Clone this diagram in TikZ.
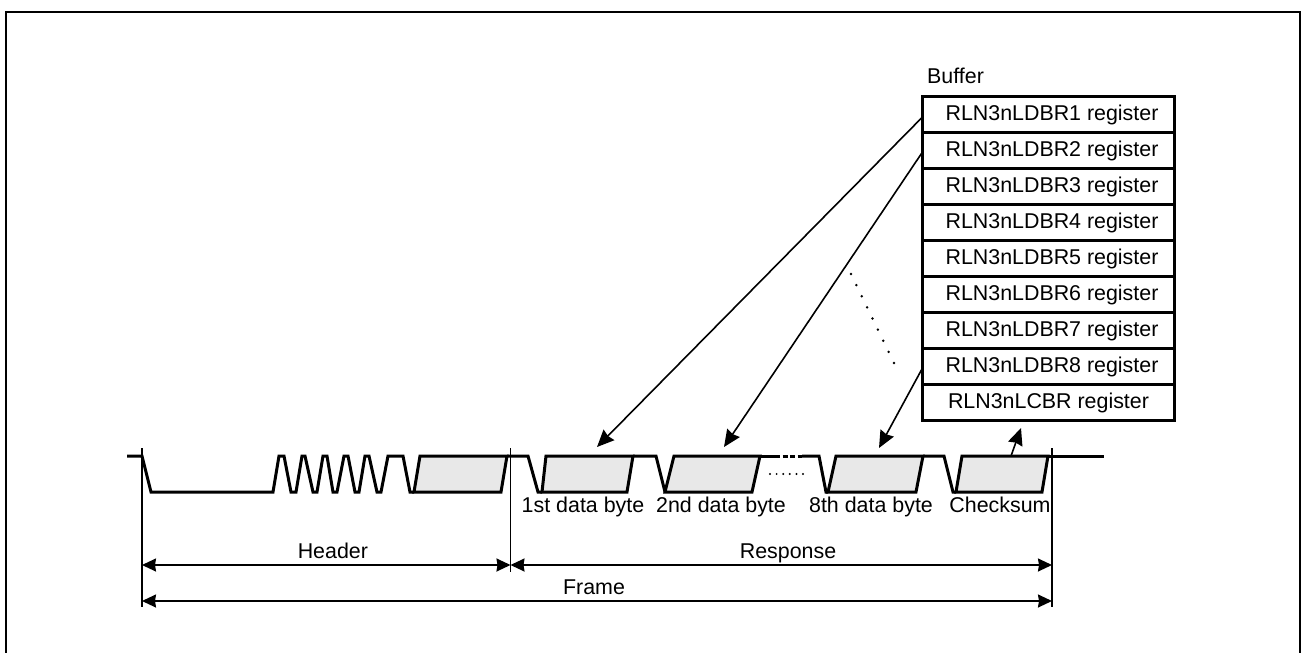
\documentclass[tikz,border=0pt]{standalone}
\usepackage{fontspec}
\setmainfont{Liberation Sans}
\usepackage{xcolor}
\usepackage{tikz}
\usetikzlibrary{arrows.meta,positioning}
\definecolor{ByteGray}{HTML}{E8E8E8}
\newcommand{\regtxt}[1]{\hspace*{7pt}#1}

\begin{document}
\begin{tikzpicture}[
  x=1pt,y=-1pt,
  regbox/.style={rectangle,draw,line width=3pt,minimum width=252pt,minimum height=36pt,
              inner sep=0pt,outer sep=0pt,text height=15.4pt,text depth=2.4pt,
              font=\fontsize{21.4}{24}\selectfont},
  txt/.style={font=\fontsize{21.4}{24}\selectfont,inner sep=0pt,text height=15.4pt,text depth=4.5pt},
  signal/.style={line width=3pt},
  byte/.style={signal,fill=ByteGray},
  arrow/.style={-{Stealth[length=17pt,width=15pt,inset=1.5pt]},line width=1.6pt},
  dim/.style={{Stealth[length=14pt,width=13pt,inset=1pt]}-{Stealth[length=14pt,width=13pt,inset=1pt]},line width=1.6pt},
  tick/.style={line width=1.6pt},
  node distance=0pt
]
\useasboundingbox (0,0) rectangle (1301,653);
\coordinate (fl) at (6,653);
\coordinate (tl) at (6,12);
\coordinate (tr) at (1300,12);
\coordinate (fr) at (1300,653);
\draw[line width=2pt] (fl) -- (tl) -- (tr) -- (fr);

%% Buffer
\node[regbox] (r1) at (1048.5,114) {\regtxt{RLN3nLDBR1 register}};
\node[regbox,below=0pt of r1] (r2) {\regtxt{RLN3nLDBR2 register}};
\node[regbox,below=0pt of r2] (r3) {\regtxt{RLN3nLDBR3 register}};
\node[regbox,below=0pt of r3] (r4) {\regtxt{RLN3nLDBR4 register}};
\node[regbox,below=0pt of r4] (r5) {\regtxt{RLN3nLDBR5 register}};
\node[regbox,below=0pt of r5] (r6) {\regtxt{RLN3nLDBR6 register}};
\node[regbox,below=0pt of r6] (r7) {\regtxt{RLN3nLDBR7 register}};
\node[regbox,below=0pt of r7] (r8) {\regtxt{RLN3nLDBR8 register}};
\node[regbox,below=0pt of r8] (cbr) {RLN3nLCBR register};
\node[txt,anchor=west] (buf) at (927,78) {Buffer};

%% Waveform
\draw[signal] (127,456) -- (142,456) -- (151,492) -- (273,492) -- (279,456) -- (284,456)
  -- (291,492) -- (296,492) -- (302,456) -- (305,456) -- (313,492) -- (317,492) -- (323,456) -- (327,456)
  -- (333,492) -- (337,492) -- (344,456) -- (348,456) -- (355,492) -- (359,492) -- (365,456) -- (369,456)
  -- (377,492) -- (381,492) -- (388,456) -- (403,456) -- (410,492) -- (414,492);
\draw[byte] (414,492) -- (420,456) -- (507,456) -- (501,492) -- cycle;
\draw[signal] (507,456) -- (528,456) -- (538,492) -- (542,492);
\draw[byte] (542,492) -- (546,456) -- (633,456) -- (627,492) -- cycle;
\draw[signal] (633,456) -- (656,456) -- (665,492);
\draw[byte] (665,492) -- (674,456) -- (760,456) -- (752,492) -- cycle;
\draw[signal] (760,456) -- (775,456);
\draw[signal,dash pattern=on 5pt off 2.5pt] (775,456) -- (802,456);
\draw[line width=2.2pt,line cap=round,dash pattern=on 0pt off 6.6pt] (770,474) -- (803.5,474);
\draw[signal] (802,456) -- (819,456) -- (826,492) -- (828,492);
\draw[byte] (828,492) -- (836,456) -- (923,456) -- (916,492) -- cycle;
\draw[signal] (923,456) -- (944,456) -- (953,492) -- (956,492);
\draw[byte] (956,492) -- (962,456) -- (1048,456) -- (1042,492) -- cycle;
\draw[signal] (1048,456) -- (1104,456);

%% Byte labels
\node[txt] (b1) at (583,507.5) {1st data byte};
\node[txt] (b2) at (721,507.5) {2nd data byte};
\node[txt] (b8) at (871,507.5) {8th data byte};
\node[txt] (bc) at (1000,507.5) {Checksum};

%% Register arrows
\coordinate (t1) at (597,447);
\coordinate (t2) at (724,447);
\coordinate (t8) at (879,448);
\coordinate (tc) at (1021,428);
\coordinate (sc) at (1011,456);
\draw[arrow] ([yshift=-3pt]r1.west) -- (t1);
\draw[arrow] ([yshift=-2pt]r2.west) -- (t2);
\draw[arrow] ([yshift=-2pt]r8.west) -- (t8);
\draw[arrow] (sc) -- (tc);
\coordinate (d0) at (851,274);
\coordinate (d1) at (894.5,364);
\draw[line width=2.6pt,line cap=round,dash pattern=on 0pt off 12.35pt] (d0) -- (d1);

%% Dimension lines
\coordinate (a0) at (142,448);
\coordinate (a1) at (142,607);
\coordinate (m0) at (510.5,448);
\coordinate (m1) at (510.5,572);
\coordinate (c0) at (1052,448);
\coordinate (c1) at (1052,607);
\draw[tick] (a0) -- (a1);
\draw[tick] (m0) -- (m1);
\draw[tick] (c0) -- (c1);
\coordinate (ha) at (142,565);
\coordinate (hb) at (510.5,565);
\coordinate (hc) at (1052,565);
\coordinate (fa) at (142,601);
\coordinate (fc) at (1052,601);
\draw[dim] (ha) -- node[txt,above=1.5pt,pos=0.518] (hdr) {Header} (hb);
\draw[dim] (hb) -- node[txt,above=1.5pt,pos=0.5125] (rsp) {Response} (hc);
\draw[dim] (fa) -- node[txt,above=1.5pt,pos=0.4967] (frm) {Frame} (fc);

\end{tikzpicture}
\end{document}
